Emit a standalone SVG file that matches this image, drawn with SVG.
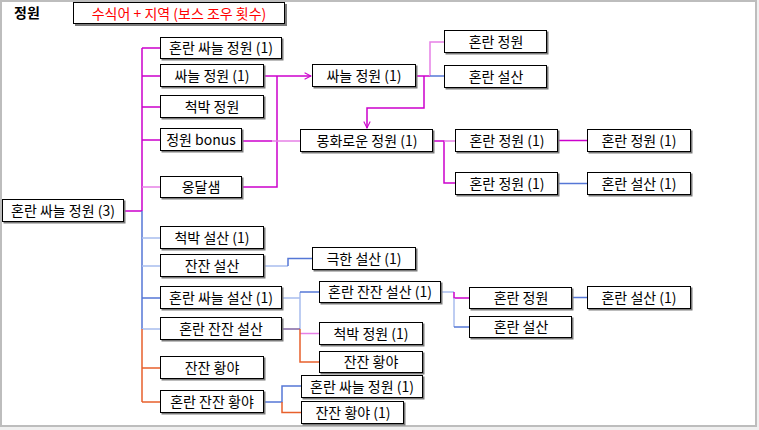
<svg xmlns="http://www.w3.org/2000/svg" width="759" height="430" viewBox="0 0 759 430">
<defs>
<marker id="arr" viewBox="0 0 10 10" refX="9" refY="5" markerWidth="8" markerHeight="8" markerUnits="userSpaceOnUse" orient="auto">
<path d="M1,1 L9,5 L1,9" fill="none" stroke="#cc00cc" stroke-width="1.3"/>
</marker>
<style>
.bg{fill:#f0f0f0}
.frame{fill:#ffffff;stroke:#bdbdbd;stroke-width:2}
.sh{fill:#7a7a7a}
.bx{fill:#ffffff;stroke:#000000;stroke-width:1}
.t{font-family:"Noto Sans CJK KR","Noto Sans",sans-serif;font-size:14px;fill:#000;text-anchor:middle}
.hd{font-family:"Noto Sans CJK KR","Noto Sans",sans-serif;font-size:14px;font-weight:bold;fill:#000}
.red{fill:#ff0000}
.c{fill:none;stroke-width:1.5}
.m{stroke:#cc00cc}
.p{stroke:#e680e6}
.b{stroke:#5577d6}
.lb{stroke:#a8bdee}
.o{stroke:#e8602c}
.pu{stroke:#8064a2}
</style>
</defs>
<rect class="bg" x="0" y="0" width="759" height="430"/>
<rect class="frame" x="1" y="1" width="755" height="425"/>
<text class="hd" x="14" y="18">정원</text>
<g id="legend">
<rect class="sh" x="75" y="4" width="212" height="22"/>
<rect class="bx" x="73.5" y="2.5" width="211" height="21"/>
<text class="t red" x="179" y="19">수식어 + 지역 (보스 조우 횟수)</text>
</g>
<g id="connectors">
<path class="c m" d="M124,211 H142 M142,48 V211 M142,48 H160 M142,76 H160 M142,107 H160 M142,140 H160"/>
<path class="c p" d="M142,187 H160"/>
<path class="c b" d="M142,211 V329 M142,298 H160"/>
<path class="c lb" d="M142,238 H160 M142,266 H160 M142,329 H160"/>
<path class="c o" d="M142,329 V402 M142,368 H160 M142,402 H160"/>
<path class="c m" d="M242,187 H277 V76"/>
<path class="c m" d="M264,76 H311" marker-end="url(#arr)"/>
<path class="c m" d="M242,141 H272"/>
<path class="c p" d="M272,141 H300"/>
<path class="c m" d="M416,76 H430"/>
<path class="c p" d="M430,76 V42 H444"/>
<path class="c b" d="M430,76 H444"/>
<path class="c m" d="M424,76 V108 H367 V128" marker-end="url(#arr)"/>
<path class="c m" d="M433,141 H444 V183 H455"/>
<path class="c p" d="M444,141 H455"/>
<path class="c m" d="M558,140.5 H587"/>
<path class="c b" d="M558,183.5 H587"/>
<path class="c lb" d="M264,266 H288"/>
<path class="c b" d="M288,266 V258.5 H312"/>
<path class="c lb" d="M283,298 H300 M300,292 V329"/>
<path class="c b" d="M300,292 H319"/>
<path class="c pu" d="M283,329 H300"/>
<path class="c p" d="M300,333.5 H319"/>
<path class="c o" d="M300,329 V362 H319"/>
<path class="c lb" d="M441,292 H454"/>
<path class="c m" d="M454,292 V298 H469"/>
<path class="c lb" d="M454,298 V327"/>
<path class="c b" d="M454,327 H469"/>
<path class="c b" d="M572,297.5 H587"/>
<path class="c b" d="M264,402 H282 V386 H301"/>
<path class="c o" d="M282,402 V412.5 H301"/>
</g>
<g id="n0"><rect class="sh" x="3.5" y="200.5" width="122" height="23"/><rect class="bx" x="2.5" y="199.5" width="121" height="22"/><text class="t" x="63" y="216">혼란 싸늘 정원 (3)</text></g>
<g id="n1"><rect class="sh" x="161.5" y="38.5" width="122" height="22"/><rect class="bx" x="160.5" y="37.5" width="121" height="21"/><text class="t" x="221" y="53">혼란 싸늘 정원 (1)</text></g>
<g id="n2"><rect class="sh" x="161.5" y="65.5" width="104" height="23"/><rect class="bx" x="160.5" y="64.5" width="103" height="22"/><text class="t" x="212" y="81">싸늘 정원 (1)</text></g>
<g id="n3"><rect class="sh" x="161.5" y="96.5" width="104" height="23"/><rect class="bx" x="160.5" y="95.5" width="103" height="22"/><text class="t" x="212" y="112">척박 정원</text></g>
<g id="n4"><rect class="sh" x="161.5" y="129.5" width="82" height="23"/><rect class="bx" x="160.5" y="128.5" width="81" height="22"/><text class="t" x="201" y="145">정원 bonus</text></g>
<g id="n5"><rect class="sh" x="161.5" y="177.5" width="82" height="22"/><rect class="bx" x="160.5" y="176.5" width="81" height="21"/><text class="t" x="201" y="192">옹달샘</text></g>
<g id="n6"><rect class="sh" x="161.5" y="227.5" width="104" height="23"/><rect class="bx" x="160.5" y="226.5" width="103" height="22"/><text class="t" x="212" y="243">척박 설산 (1)</text></g>
<g id="n7"><rect class="sh" x="161.5" y="255.5" width="104" height="23"/><rect class="bx" x="160.5" y="254.5" width="103" height="22"/><text class="t" x="212" y="271">잔잔 설산</text></g>
<g id="n8"><rect class="sh" x="161.5" y="287.5" width="122" height="23"/><rect class="bx" x="160.5" y="286.5" width="121" height="22"/><text class="t" x="221" y="303">혼란 싸늘 설산 (1)</text></g>
<g id="n9"><rect class="sh" x="161.5" y="318.5" width="122" height="23"/><rect class="bx" x="160.5" y="317.5" width="121" height="22"/><text class="t" x="221" y="334">혼란 잔잔 설산</text></g>
<g id="n10"><rect class="sh" x="161.5" y="357.5" width="104" height="23"/><rect class="bx" x="160.5" y="356.5" width="103" height="22"/><text class="t" x="212" y="373">잔잔 황야</text></g>
<g id="n11"><rect class="sh" x="161.5" y="391.5" width="104" height="23"/><rect class="bx" x="160.5" y="390.5" width="103" height="22"/><text class="t" x="212" y="407">혼란 잔잔 황야</text></g>
<g id="n12"><rect class="sh" x="313.5" y="65.5" width="104" height="23"/><rect class="bx" x="312.5" y="64.5" width="103" height="22"/><text class="t" x="364" y="81">싸늘 정원 (1)</text></g>
<g id="n13"><rect class="sh" x="445.5" y="31.5" width="103" height="23"/><rect class="bx" x="444.5" y="30.5" width="102" height="22"/><text class="t" x="496" y="47">혼란 정원</text></g>
<g id="n14"><rect class="sh" x="445.5" y="66.5" width="103" height="23"/><rect class="bx" x="444.5" y="65.5" width="102" height="22"/><text class="t" x="496" y="82">혼란 설산</text></g>
<g id="n15"><rect class="sh" x="301.5" y="130.5" width="133" height="23"/><rect class="bx" x="300.5" y="129.5" width="132" height="22"/><text class="t" x="367" y="146">몽화로운 정원 (1)</text></g>
<g id="n16"><rect class="sh" x="456.5" y="130.5" width="103" height="23"/><rect class="bx" x="455.5" y="129.5" width="102" height="22"/><text class="t" x="507" y="146">혼란 정원 (1)</text></g>
<g id="n17"><rect class="sh" x="456.5" y="173.5" width="103" height="23"/><rect class="bx" x="455.5" y="172.5" width="102" height="22"/><text class="t" x="507" y="189">혼란 정원 (1)</text></g>
<g id="n18"><rect class="sh" x="588.5" y="130.5" width="104" height="23"/><rect class="bx" x="587.5" y="129.5" width="103" height="22"/><text class="t" x="639" y="146">혼란 정원 (1)</text></g>
<g id="n19"><rect class="sh" x="588.5" y="173.5" width="104" height="23"/><rect class="bx" x="587.5" y="172.5" width="103" height="22"/><text class="t" x="639" y="189">혼란 설산 (1)</text></g>
<g id="n20"><rect class="sh" x="313.5" y="248.5" width="104" height="23"/><rect class="bx" x="312.5" y="247.5" width="103" height="22"/><text class="t" x="364" y="264">극한 설산 (1)</text></g>
<g id="n21"><rect class="sh" x="320.5" y="282.5" width="122" height="22"/><rect class="bx" x="319.5" y="281.5" width="121" height="21"/><text class="t" x="380" y="297">혼란 잔잔 설산 (1)</text></g>
<g id="n22"><rect class="sh" x="320.5" y="323.5" width="104" height="23"/><rect class="bx" x="319.5" y="322.5" width="103" height="22"/><text class="t" x="371" y="339">척박 정원 (1)</text></g>
<g id="n23"><rect class="sh" x="320.5" y="352.5" width="104" height="22"/><rect class="bx" x="319.5" y="351.5" width="103" height="21"/><text class="t" x="371" y="367">잔잔 황야</text></g>
<g id="n24"><rect class="sh" x="302.5" y="376.5" width="122" height="23"/><rect class="bx" x="301.5" y="375.5" width="121" height="22"/><text class="t" x="362" y="392">혼란 싸늘 정원 (1)</text></g>
<g id="n25"><rect class="sh" x="302.5" y="402.5" width="103" height="23"/><rect class="bx" x="301.5" y="401.5" width="102" height="22"/><text class="t" x="353" y="418">잔잔 황야 (1)</text></g>
<g id="n26"><rect class="sh" x="470.5" y="288.5" width="103" height="22"/><rect class="bx" x="469.5" y="287.5" width="102" height="21"/><text class="t" x="521" y="303">혼란 정원</text></g>
<g id="n27"><rect class="sh" x="470.5" y="317.5" width="103" height="22"/><rect class="bx" x="469.5" y="316.5" width="102" height="21"/><text class="t" x="521" y="332">혼란 설산</text></g>
<g id="n28"><rect class="sh" x="588.5" y="287.5" width="104" height="23"/><rect class="bx" x="587.5" y="286.5" width="103" height="22"/><text class="t" x="639" y="303">혼란 설산 (1)</text></g>
</svg>
